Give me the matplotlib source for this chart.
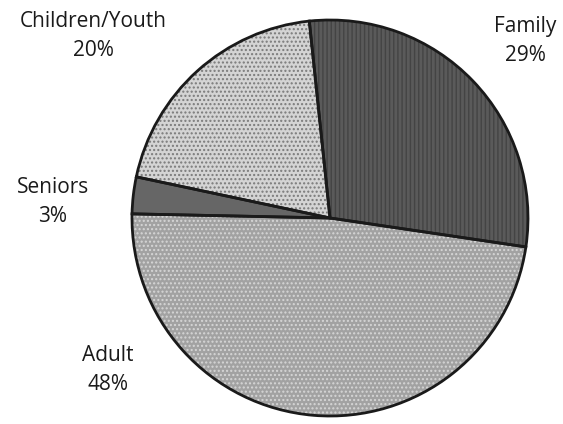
import matplotlib.pyplot as plt

# Data
categories = ["Family", "Adult", "Seniors", "Children/Youth"]
shares = [29, 48, 3, 20]

# Styling
fills = ["#5a5a5a", "#a2a2a2", "#666666", "#d4d4d4"]
dots = ["#444444", "#d6d6d6", "#555555", "#7a7a7a"]
hatches = ["||||", "....", "", "...."]
label_pos = [(525, 383), (108, 54), (53, 222), (93, 388)]

fig = plt.figure(figsize=(5.63, 4.24), dpi=100)
ax = fig.add_axes([0, 0, 1, 1])
ax.set_xlim(0, 563)
ax.set_ylim(0, 424)
ax.set_aspect("equal")
ax.axis("off")

center = (330, 206)
radius = 198
start = 96

# textured fill
wedges, _ = ax.pie(shares, startangle=start, counterclock=False,
                   center=center, radius=radius, colors=fills,
                   wedgeprops=dict(linewidth=0))
for w, h, c in zip(wedges, hatches, dots):
    w.set_hatch(h)
    w.set_edgecolor(c)
    w.set_linewidth(0)

# outlines
ax.pie(shares, startangle=start, counterclock=False,
       center=center, radius=radius, colors=["none"] * len(shares),
       wedgeprops=dict(linewidth=2, edgecolor="#1a1a1a", fill=False))
ax.set_xlim(0, 563)
ax.set_ylim(0, 424)

for name, val, (x, y) in zip(categories, shares, label_pos):
    ax.text(x, y, f"{name}\n{val}%", ha="center", va="center",
            fontsize=15, family="Open Sans", color="#1a1a1a",
            linespacing=1.5)

fig.savefig("out.png", dpi=100)
